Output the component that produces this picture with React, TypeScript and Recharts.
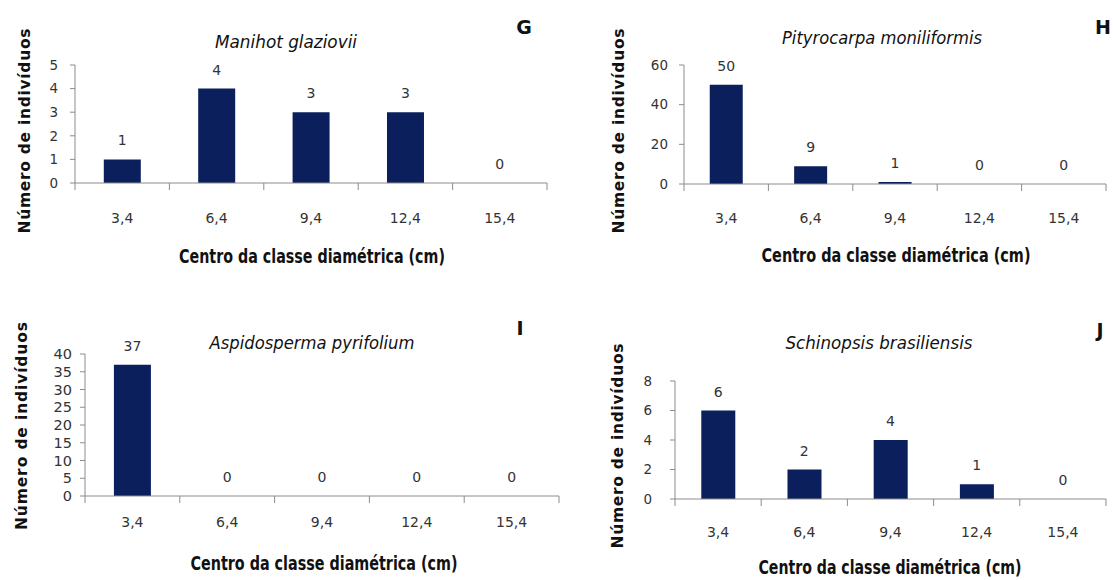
import { Bar, ComposedChart, LabelList, Line, XAxis, YAxis } from 'recharts'

// diameter class centres (cm)
const classes = ['3,4', '6,4', '9,4', '12,4', '15,4']

// number of individuals per class
const manihotCounts = [1, 4, 3, 3, 0]
const pityrocarpaCounts = [50, 9, 1, 0, 0]
const aspidospermaCounts = [37, 0, 0, 0, 0]
const schinopsisCounts = [6, 2, 4, 1, 0]

// y axis ticks
const manihotTicks = [0, 1, 2, 3, 4, 5]
const pityrocarpaTicks = [0, 20, 40, 60]
const aspidospermaTicks = [0, 5, 10, 15, 20, 25, 30, 35, 40]
const schinopsisTicks = [0, 2, 4, 6, 8]

const xTitle = 'Centro da classe diamétrica (cm)'
const yTitle = 'Número de indivíduos'

const barColor = '#0b1f5c'
const axisColor = '#8c8c8c'
const textColor = '#333'
const tickFont = '"DejaVu Sans", Verdana, sans-serif'
const labelFont = '"Liberation Sans Narrow", "DejaVu Sans Condensed", sans-serif'

type Panel = {
  letter: string
  species: string
  counts: number[]
  ticks: number[]
  left: number
  top: number
  width: number
  height: number
  plot: { x0: number; x1: number; y0: number; y1: number }
  yTickMargin: number
  yTickFont: number
  xTickDy: number
  title: [number, number, number]
  mark: [number, number]
  yLabel: [number, number, number]
  xLabel: [number, number, number]
}

const panels: Panel[] = [
  {
    letter: 'G', species: 'Manihot glaziovii', counts: manihotCounts, ticks: manihotTicks,
    left: 0, top: 0, width: 570, height: 290,
    plot: { x0: 75, x1: 547, y0: 65, y1: 183 },
    yTickMargin: 12, yTickFont: 13.5, xTickDy: 35,
    title: [286, 42, 142], mark: [524, 27], yLabel: [25, 131, 205], xLabel: [312, 256, 266],
  },
  {
    letter: 'H', species: 'Pityrocarpa moniliformis', counts: pityrocarpaCounts, ticks: pityrocarpaTicks,
    left: 570, top: 0, width: 543, height: 290,
    plot: { x0: 684, x1: 1106, y0: 65, y1: 184 },
    yTickMargin: 11, yTickFont: 13.5, xTickDy: 34,
    title: [882, 38, 200], mark: [1103, 27], yLabel: [619, 131, 205], xLabel: [896, 255, 269],
  },
  {
    letter: 'I', species: 'Aspidosperma pyrifolium', counts: aspidospermaCounts, ticks: aspidospermaTicks,
    left: 0, top: 290, width: 570, height: 290,
    plot: { x0: 85, x1: 559, y0: 354, y1: 496 },
    yTickMargin: 8, yTickFont: 14.5, xTickDy: 26,
    title: [312, 343, 205], mark: [520, 328], yLabel: [22, 426, 208], xLabel: [324, 563, 267],
  },
  {
    letter: 'J', species: 'Schinopsis brasiliensis', counts: schinopsisCounts, ticks: schinopsisTicks,
    left: 570, top: 290, width: 543, height: 290,
    plot: { x0: 675, x1: 1106, y0: 381, y1: 499 },
    yTickMargin: 18, yTickFont: 13.5, xTickDy: 33,
    title: [879, 343, 187], mark: [1100, 330], yLabel: [618, 446, 205], xLabel: [890, 567, 263],
  },
]

// category label plus the Excel-style tick marks between classes
function ClassTick(props: any) {
  const { x, y, payload, index, dy, half } = props
  const h = payload?.offset || half
  const last = index === classes.length - 1
  return (
    <g>
      <line x1={x - h} x2={x - h} y1={y} y2={y + 7} stroke={axisColor} />
      {last && <line x1={x + h} x2={x + h} y1={y} y2={y + 7} stroke={axisColor} />}
      <text
        x={x}
        y={y + dy}
        textAnchor="middle"
        dominantBaseline="central"
        fontSize={14}
        fill={textColor}
        fontFamily={tickFont}
      >
        {payload.value}
      </text>
    </g>
  )
}

function SpeciesChart({ p }: { p: Panel }) {
  const data = classes.map((classe, i) => ({ classe, n: p.counts[i] }))
  const yw = 40
  const xh = 50
  const margin = {
    top: p.plot.y0 - p.top,
    right: p.left + p.width - p.plot.x1,
    bottom: p.top + p.height - p.plot.y1 - xh,
    left: p.plot.x0 - p.left - yw,
  }
  const half = (p.plot.x1 - p.plot.x0) / classes.length / 2
  return (
    <div style={{ position: 'absolute', left: p.left, top: p.top }}>
      <ComposedChart width={p.width} height={p.height} data={data} margin={margin} barCategoryGap="30.5%">
        <XAxis
          dataKey="classe"
          interval={0}
          height={xh}
          tickLine={false}
          tickSize={0}
          tickMargin={0}
          axisLine={{ stroke: axisColor }}
          tick={(t: any) => <ClassTick {...t} dy={p.xTickDy} half={half} />}
        />
        <YAxis
          type="number"
          domain={[0, p.ticks[p.ticks.length - 1]]}
          ticks={p.ticks}
          interval={0}
          width={yw}
          tickSize={5}
          tickMargin={p.yTickMargin}
          axisLine={{ stroke: axisColor }}
          tickLine={{ stroke: axisColor }}
          tick={{ fontSize: p.yTickFont, fill: textColor, fontFamily: tickFont }}
        />
        <Bar dataKey="n" fill={barColor} isAnimationActive={false} />
        {/* invisible line only carries the value labels, so empty classes still show 0 */}
        <Line
          dataKey="n"
          stroke="none"
          dot={false}
          activeDot={false}
          legendType="none"
          isAnimationActive={false}
        >
          <LabelList
            dataKey="n"
            position="top"
            offset={14}
            fill={textColor}
            fontSize={14}
            fontFamily={tickFont}
          />
        </Line>
      </ComposedChart>
    </div>
  )
}

export default function App() {
  return (
    <div style={{ position: 'absolute', left: 0, top: 0, width: 1113, height: 580, background: '#fff' }}>
      {panels.map((p) => (
        <SpeciesChart key={p.letter} p={p} />
      ))}
      <svg width={1113} height={580} style={{ position: 'absolute', left: 0, top: 0, pointerEvents: 'none' }}>
        {panels.map((p) => (
          <g key={p.letter} fill="#111">
            <text
              x={p.title[0]}
              y={p.title[1]}
              textAnchor="middle"
              dominantBaseline="central"
              fontStyle="italic"
              fontSize={17.5}
              fontFamily={tickFont}
              textLength={p.title[2]}
              lengthAdjust="spacingAndGlyphs"
            >
              {p.species}
            </text>
            <text
              x={p.mark[0]}
              y={p.mark[1]}
              textAnchor="middle"
              dominantBaseline="central"
              fontWeight="bold"
              fontSize={19}
              fontFamily={tickFont}
            >
              {p.letter}
            </text>
            <text
              transform={`translate(${p.yLabel[0]},${p.yLabel[1]}) rotate(-90)`}
              textAnchor="middle"
              dominantBaseline="central"
              fontWeight="bold"
              fontSize={15.5}
              fontFamily={tickFont}
              textLength={p.yLabel[2]}
            >
              {yTitle}
            </text>
            <text
              x={p.xLabel[0]}
              y={p.xLabel[1]}
              textAnchor="middle"
              dominantBaseline="central"
              fontWeight="bold"
              fontSize={19}
              fontFamily={labelFont}
              textLength={p.xLabel[2]}
              lengthAdjust="spacingAndGlyphs"
            >
              {xTitle}
            </text>
          </g>
        ))}
      </svg>
    </div>
  )
}
